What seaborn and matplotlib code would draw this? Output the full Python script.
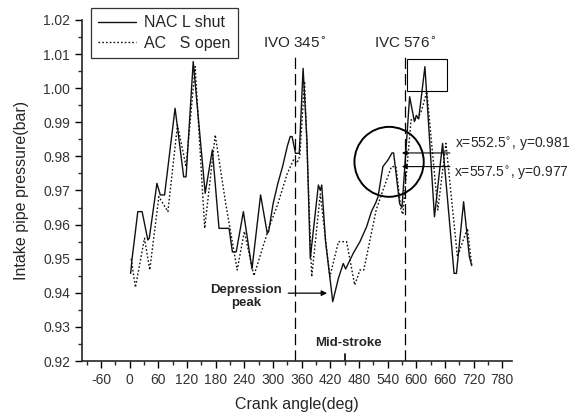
import pandas as pd
import matplotlib
matplotlib.use("Agg")
import matplotlib.pyplot as plt
import matplotlib.patches as mpatches
from matplotlib.ticker import MultipleLocator, FormatStrFormatter
import seaborn as sns

# crank angle (deg) / pressure (bar)
nac_angle = [2, 5, 17, 26, 38, 41, 57, 64, 73, 95, 113, 118, 133, 158, 173, 187, 208,
             215, 223, 238, 256, 274, 288, 291, 300, 310, 320, 330, 336, 340, 347, 355,
             363, 371, 378, 395, 399, 402, 410, 423, 425, 437, 447, 452, 468, 482, 496,
             506, 516, 520, 530, 541, 549, 552.5, 565, 570, 586, 596, 600, 605, 618, 638,
             655, 679, 684, 699, 711, 716]
nac_press = [0.9457, 0.950, 0.9638, 0.9638, 0.9555, 0.956, 0.9721, 0.9687, 0.9687, 0.9941,
             0.974, 0.974, 1.0078, 0.9692, 0.9819, 0.9589, 0.9589, 0.952, 0.952, 0.9638,
             0.947, 0.9687, 0.9574, 0.958, 0.966, 0.972, 0.977, 0.983, 0.9858, 0.9858,
             0.9809, 0.9809, 1.0058, 0.985, 0.9501, 0.9716, 0.970, 0.9716, 0.955, 0.9399,
             0.9374, 0.9443, 0.9486, 0.947, 0.9516, 0.955, 0.9594, 0.9638, 0.9667, 0.9682,
             0.977, 0.979, 0.981, 0.981, 0.9662, 0.965, 0.9975, 0.9902, 0.992, 0.991,
             1.0063, 0.9623, 0.9838, 0.9457, 0.9457, 0.9667, 0.9506, 0.948]

ac_angle = [3, 12, 31, 42, 61, 80, 100, 118, 137, 157, 179, 201, 225, 240, 260, 291, 310,
            330, 343, 350, 356, 366, 381, 399, 419, 437, 454, 471, 482, 490, 516, 530, 548,
            557.5, 568, 572, 589, 600, 610, 622, 645, 662, 686, 707, 716]
ac_press = [0.950, 0.9416, 0.956, 0.9467, 0.9682, 0.9638, 0.9892, 0.977, 1.0063, 0.9589,
            0.9863, 0.9662, 0.9467, 0.958, 0.945, 0.9589, 0.966, 0.975, 0.979, 0.978, 0.980,
            1.002, 0.9447, 0.969, 0.9447, 0.955, 0.955, 0.9423, 0.9467, 0.9467, 0.9643,
            0.970, 0.977, 0.977, 0.9643, 0.963, 0.9907, 0.9907, 0.993, 0.999, 0.9643, 0.9838,
            0.9506, 0.9589, 0.9481]

ivo, ivc = 345, 576

sns.set_style("ticks")
plt.rcParams['font.family'] = ['Liberation Sans', 'DejaVu Sans']
plt.rcParams['axes.unicode_minus'] = False

fig = plt.figure(figsize=(5.81, 4.15), dpi=100)
ax = fig.add_axes([0.141, 0.130, 0.740, 0.822])

nac = pd.DataFrame({"angle": nac_angle, "p": nac_press})
ac = pd.DataFrame({"angle": ac_angle, "p": ac_press})
sns.lineplot(data=nac, x="angle", y="p", ax=ax, color="#111111", lw=1.0,
             label="NAC L shut", sort=False)
sns.lineplot(data=ac, x="angle", y="p", ax=ax, color="#111111", lw=1.0,
             ls=(0, (1.2, 1.5)), label="AC   S open", sort=False)

# valve timing lines
for a in (ivo, ivc):
    ax.plot([a, a], [0.92, 1.0097], color="k", lw=0.9, ls=(0, (9, 4)))
ax.text(ivo, 1.0132, "IVO 345$^{\\circ}$", ha="center", va="center", fontsize=11)
ax.text(ivc, 1.0132, "IVC 576$^{\\circ}$", ha="center", va="center", fontsize=11)

# mid-stroke marker
ax.plot([450, 450], [0.92, 0.9222], color="k", lw=1.2)
ax.text(457, 0.9253, "Mid-stroke", ha="center", va="center", fontsize=9.5,
        fontweight="bold")

# depression peak
ax.text(243, 0.939, "Depression\npeak", ha="center", va="center", fontsize=9.5,
        fontweight="bold", linespacing=1.15)
ax.annotate("", xy=(419, 0.9399), xytext=(326, 0.9399),
            arrowprops=dict(arrowstyle="-|>", color="k", lw=0.9, mutation_scale=8))

# circle, box and peak readouts
ax.add_patch(mpatches.Ellipse((543, 0.9784), 145, 0.0205, fill=False, color="k", lw=1.4))
ax.add_patch(mpatches.Rectangle((580, 0.9993), 84, 0.0092, fill=False, color="k", lw=0.8))
for y in (0.981, 0.977):
    ax.annotate("", xy=(564, y), xytext=(676, y),
                arrowprops=dict(arrowstyle="-|>", color="k", lw=0.8, mutation_scale=7))
ax.text(680, 0.9836, "x=552.5$^{\\circ}$, y=0.981", ha="left", va="center", fontsize=10)
ax.text(679, 0.9751, "x=557.5$^{\\circ}$, y=0.977", ha="left", va="center", fontsize=10)

ax.set_xlim(-100, 800)
ax.set_ylim(0.92, 1.02)
ax.xaxis.set_major_locator(MultipleLocator(60))
ax.xaxis.set_minor_locator(MultipleLocator(30))
ax.yaxis.set_major_locator(MultipleLocator(0.01))
ax.yaxis.set_minor_locator(MultipleLocator(0.005))
ax.yaxis.set_major_formatter(FormatStrFormatter("%.2f"))
ax.tick_params(which="major", length=5, width=1, labelsize=10, colors="k",
               labelcolor="#333333")
ax.tick_params(which="minor", length=3, width=1)
sns.despine(ax=ax)
for s in ("left", "bottom"):
    ax.spines[s].set_linewidth(1.2)

ax.set_xlabel("Crank angle(deg)", fontsize=11.5, labelpad=7)
ax.set_ylabel("Intake pipe pressure(bar)", fontsize=11.5, labelpad=10)

leg = ax.legend(loc="upper left", bbox_to_anchor=(0.021, 1.035), fontsize=11.5,
                frameon=True, fancybox=False, edgecolor="k", handlelength=2.4,
                borderpad=0.45, labelspacing=0.35, handletextpad=0.5,
                borderaxespad=0)
leg.get_frame().set_linewidth(0.9)

fig.savefig("out.png", dpi=100)
